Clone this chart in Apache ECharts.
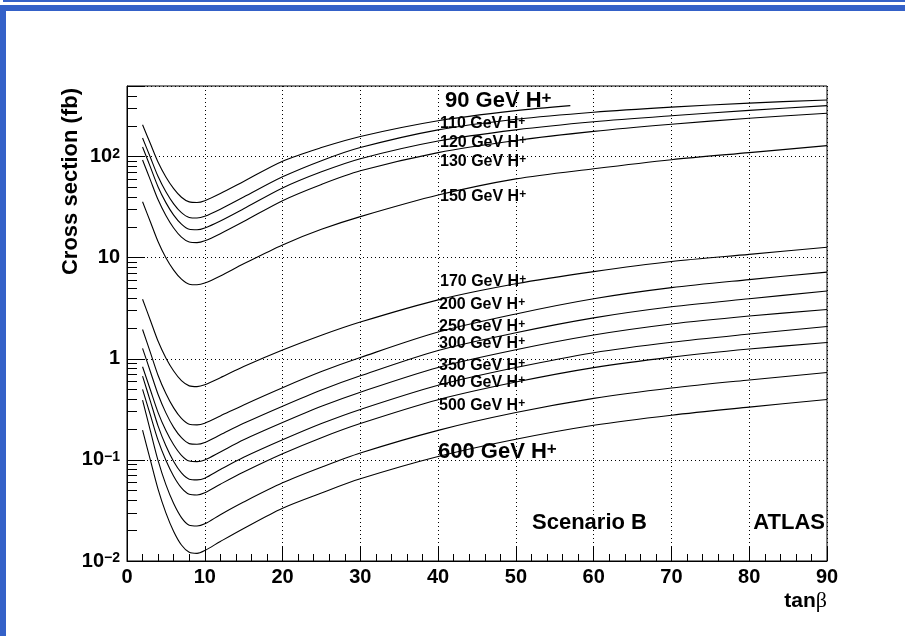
<!DOCTYPE html>
<html>
<head>
<meta charset="utf-8">
<title>Charged Higgs cross section</title>
<script src="https://cdn.jsdelivr.net/npm/echarts@6/dist/echarts.min.js"></script>
<style>
  html, body { margin: 0; padding: 0; background: #fff; }
  #chart { width: 905px; height: 636px; }
</style>
</head>
<body>
<div id="chart"></div>
<script>
// tan(beta) sampling points
const tanb = [2, 3, 4, 5, 6, 7, 8, 9, 10, 12, 15, 20, 25, 30, 40, 50, 60, 70, 80, 90];
const tanb90 = [2, 3, 4, 5, 6, 7, 8, 9, 10, 12, 15, 20, 25, 30, 40, 50, 57];

// cross sections in fb
const xs90 = [206.5, 134.9, 88.1, 63.0, 48.3, 39.7, 35.7, 35.2, 36.7, 43.2, 56.9, 90.2, 123.0, 158.5, 226.5, 285.1, 319.9];
const xs110 = [153.1, 98.6, 63.5, 44.9, 34.1, 27.9, 25.0, 24.7, 25.7, 30.2, 39.8, 63.1, 91.2, 123.0, 184.1, 234.4, 275.4, 309.0, 338.8, 363.9];
const xs120 = [124.7, 79.2, 50.2, 35.1, 26.4, 21.5, 19.1, 18.9, 19.7, 23.1, 30.5, 49.0, 70.8, 95.5, 142.9, 184.1, 221.3, 254.1, 287.1, 319.9];
const xs130 = [92.7, 58.9, 37.4, 26.2, 19.7, 16.0, 14.3, 14.1, 14.7, 17.3, 22.8, 36.7, 53.1, 72.4, 109.6, 144.5, 177.8, 208.9, 239.9, 269.2];
const xs150 = [35.8, 22.7, 14.4, 10.0, 7.55, 6.14, 5.47, 5.40, 5.62, 6.61, 8.71, 13.4, 19.1, 25.5, 41.7, 60.3, 75.9, 93.3, 109.6, 128.5];
const xs170 = [3.89, 2.41, 1.49, 1.02, 0.757, 0.608, 0.540, 0.531, 0.553, 0.650, 0.838, 1.22, 1.71, 2.31, 3.83, 5.53, 7.29, 9.18, 10.8, 12.7];
const xs200 = [1.95, 1.16, 0.685, 0.454, 0.327, 0.257, 0.225, 0.222, 0.231, 0.272, 0.350, 0.518, 0.748, 1.03, 1.84, 2.78, 3.93, 5.06, 6.08, 7.21];
const xs250 = [1.27, 0.750, 0.444, 0.292, 0.210, 0.166, 0.145, 0.143, 0.149, 0.177, 0.230, 0.340, 0.492, 0.679, 1.21, 1.81, 2.54, 3.27, 3.93, 4.68];
const xs300 = [0.834, 0.495, 0.294, 0.195, 0.141, 0.111, 0.0975, 0.0962, 0.100, 0.120, 0.158, 0.234, 0.339, 0.468, 0.822, 1.23, 1.72, 2.21, 2.65, 3.08];
const xs350 = [0.675, 0.382, 0.216, 0.138, 0.0964, 0.0743, 0.0644, 0.0634, 0.0659, 0.0802, 0.106, 0.158, 0.229, 0.316, 0.548, 0.820, 1.15, 1.46, 1.76, 2.09];
const xs400 = [0.498, 0.279, 0.156, 0.0991, 0.0689, 0.0528, 0.0457, 0.0450, 0.0473, 0.0575, 0.0759, 0.115, 0.166, 0.229, 0.394, 0.589, 0.818, 1.04, 1.25, 1.45];
const xs500 = [0.390, 0.195, 0.0982, 0.0569, 0.0370, 0.0269, 0.0226, 0.0222, 0.0233, 0.0287, 0.0383, 0.0593, 0.0847, 0.117, 0.196, 0.294, 0.406, 0.514, 0.618, 0.733];
const xs600 = [0.197, 0.100, 0.0511, 0.0299, 0.0196, 0.0144, 0.0122, 0.0119, 0.0127, 0.0156, 0.0210, 0.0333, 0.0471, 0.0650, 0.108, 0.160, 0.220, 0.277, 0.333, 0.396];

const masses = [90, 110, 120, 130, 150, 170, 200, 250, 300, 350, 400, 500, 600];
const curves = [xs90, xs110, xs120, xs130, xs150, xs170, xs200, xs250, xs300, xs350, xs400, xs500, xs600];

// log axis ticks
const minorTickValues = [
  0.02, 0.03, 0.04, 0.05, 0.06, 0.07, 0.08, 0.09,
  0.2, 0.3, 0.4, 0.5, 0.6, 0.7, 0.8, 0.9,
  2, 3, 4, 5, 6, 7, 8, 9,
  20, 30, 40, 50, 60, 70, 80, 90,
  200, 300, 400
];
const yMin = 0.01;
const yMax = 500;

const FONT = '"Liberation Sans", Arial, Helvetica, sans-serif';

// label placement: [left px, centre y px, font size]
const labelLayout = [
  [445, 101, 22], [440, 124, 16], [440, 143, 16], [440, 162, 16], [440, 197, 16],
  [440, 282, 16], [439, 305, 16], [439, 327, 16], [439, 344, 16], [439, 366, 16],
  [439, 383, 16], [439, 406, 16], [438, 452, 22]
];

const chart = echarts.init(document.getElementById('chart'));

const series = curves.map((vals, i) => {
  const xsrc = i === 0 ? tanb90 : tanb;
  return {
    name: masses[i] + ' GeV',
    type: 'line',
    data: vals.map((v, j) => [xsrc[j], v]),
    yAxisIndex: 0,
    showSymbol: false,
    smooth: 0.3,
    lineStyle: { color: '#000', width: 1.1 },
    silent: true,
    z: 3
  };
});

function yLabel(value) {
  const e = Math.log10(value);
  const k = Math.round(e);
  if (Math.abs(e - k) > 1e-6) return '';
  if (k === 0) return '{b|1}';
  if (k === 1) return '{b|10}';
  return '{b|10}{s|' + (k < 0 ? '\u2212' + (-k) : k) + '}';
}

const blue = '#3461c8';
const graphics = [
  { type: 'rect', shape: { x: 3, y: 0, width: 902, height: 2 }, style: { fill: blue }, silent: true },
  { type: 'rect', shape: { x: 0, y: 5, width: 905, height: 6 }, style: { fill: blue }, silent: true },
  { type: 'rect', shape: { x: 0, y: 5, width: 6, height: 631 }, style: { fill: blue }, silent: true },
  {
    type: 'text', x: 71, y: 88, rotation: Math.PI / 2,
    style: {
      text: 'Cross section (fb)', font: 'bold 22px ' + FONT, fill: '#000',
      align: 'right', verticalAlign: 'middle', textAlign: 'right', textVerticalAlign: 'middle'
    }
  },
  {
    type: 'text', x: 827, y: 601,
    style: {
      text: '{t|tan}{g|\u03b2}', fill: '#000',
      align: 'right', verticalAlign: 'middle', textAlign: 'right', textVerticalAlign: 'middle',
      rich: {
        t: { font: 'bold 21px ' + FONT, fill: '#000' },
        g: { font: '22px "Liberation Serif", "DejaVu Serif", serif', fill: '#000' }
      }
    }
  },
  {
    type: 'text', x: 532, y: 523,
    style: {
      text: 'Scenario B', font: 'bold 22px ' + FONT, fill: '#000',
      align: 'left', verticalAlign: 'middle', textAlign: 'left', textVerticalAlign: 'middle'
    }
  },
  {
    type: 'text', x: 825, y: 523,
    style: {
      text: 'ATLAS', font: 'bold 22px ' + FONT, fill: '#000',
      align: 'right', verticalAlign: 'middle', textAlign: 'right', textVerticalAlign: 'middle'
    }
  }
];

masses.forEach((m, i) => {
  const [lx, ly, fs] = labelLayout[i];
  graphics.push({
    type: 'text', x: lx, y: ly, z: 10,
    style: {
      text: '{m|' + m + ' GeV H}{s|+}',
      align: 'left', verticalAlign: 'middle', textAlign: 'left', textVerticalAlign: 'middle',
      rich: {
        m: { font: 'bold ' + fs + 'px ' + FONT, fill: '#000', lineHeight: fs, verticalAlign: 'bottom' },
        s: { font: 'bold ' + Math.round(fs * 0.75) + 'px ' + FONT, fill: '#000', verticalAlign: 'top', lineHeight: Math.round(fs * 0.5) }
      }
    }
  });
});

const option = {
  backgroundColor: '#fff',
  animation: false,
  grid: {
    left: 127, right: 78, top: 86, bottom: 75,
    show: true, borderColor: '#000', borderWidth: 1, backgroundColor: 'transparent'
  },
  xAxis: {
    type: 'value', min: 0, max: 90, interval: 10,
    axisLine: { onZero: false, lineStyle: { color: '#000', width: 1 } },
    axisTick: { inside: true, length: 14, lineStyle: { color: '#000' } },
    minorTick: { show: true, splitNumber: 5, length: 7, lineStyle: { color: '#000' } },
    splitLine: { show: true, lineStyle: { color: '#000', type: [1, 3], width: 1 } },
    axisLabel: { color: '#000', fontFamily: FONT, fontWeight: 'bold', fontSize: 20, margin: 6 }
  },
  yAxis: [
    {
      type: 'log', logBase: 10, min: yMin, max: yMax, position: 'left',
      axisLine: { onZero: false, lineStyle: { color: '#000', width: 1 } },
      axisTick: { inside: true, length: 18, lineStyle: { color: '#000' } },
      splitLine: { show: true, lineStyle: { color: '#000', type: [1, 3], width: 1 } },
      axisLabel: {
        margin: 7, color: '#000', formatter: yLabel,
        rich: {
          b: { fontFamily: FONT, fontWeight: 'bold', fontSize: 20, color: '#000', lineHeight: 20 },
          s: { fontFamily: FONT, fontWeight: 'bold', fontSize: 14, color: '#000', verticalAlign: 'top', lineHeight: 12 }
        }
      }
    },
    {
      // helper axis carrying the 2..9 minor ticks of the log scale
      type: 'value', min: Math.log10(yMin), max: Math.log10(yMax), position: 'left',
      axisLine: { show: false, onZero: false },
      axisTick: {
        show: true, inside: true, length: 10, lineStyle: { color: '#000' },
        customValues: minorTickValues.map(v => Math.log10(v))
      },
      axisLabel: { show: false },
      splitLine: { show: false }
    }
  ],
  graphic: graphics,
  series: series
};

chart.setOption(option);
</script>
</body>
</html>
